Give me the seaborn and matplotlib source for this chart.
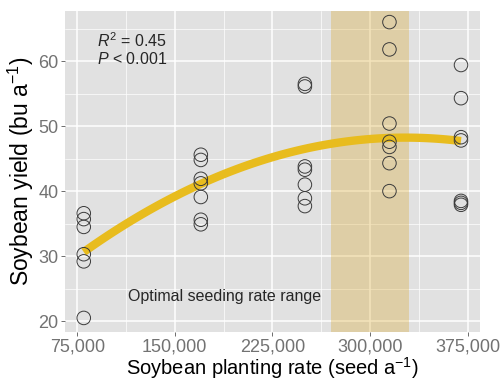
import numpy as np
import pandas as pd
import matplotlib
matplotlib.use('Agg')
import matplotlib.pyplot as plt
from matplotlib.ticker import FixedLocator, FuncFormatter
import seaborn as sns

# planting rates (seed per acre) and the yields observed at each
rates = [80000, 170000, 250000, 315000, 370000]
yield_80k = [36.6, 35.7, 34.5, 30.3, 29.2, 20.5]
yield_170k = [45.6, 44.8, 41.9, 41.2, 39.1, 35.6, 34.9]
yield_250k = [56.5, 56.1, 43.8, 43.3, 41.0, 38.9, 37.7]
yield_315k = [66.0, 61.8, 50.4, 47.6, 46.8, 44.3, 40.0]
yield_370k = [59.4, 54.3, 48.3, 47.8, 38.5, 38.2, 37.9]

optimal_range = (270000, 330000)
x_ticks = [75000, 150000, 225000, 300000, 375000]
y_ticks = [20, 30, 40, 50, 60]


def main():
    groups = [yield_80k, yield_170k, yield_250k, yield_315k, yield_370k]
    data = pd.DataFrame({
        'rate': np.concatenate([[r] * len(g) for r, g in zip(rates, groups)]),
        'yield': np.concatenate(groups),
    })

    sns.set_style('darkgrid', {'axes.facecolor': '#E1E1E1', 'grid.color': 'white'})
    plt.rcParams['font.family'] = ['Liberation Sans', 'DejaVu Sans']
    plt.rcParams['mathtext.fontset'] = 'custom'
    plt.rcParams['mathtext.rm'] = 'Liberation Sans'
    plt.rcParams['mathtext.it'] = 'Liberation Sans:italic'

    fig = plt.figure(figsize=(5.03, 3.81), dpi=100)
    ax = fig.add_axes([0.129, 0.128, 0.825, 0.843])

    ax.axvspan(*optimal_range, color='goldenrod', alpha=0.3, lw=0, zorder=1)

    sns.regplot(x='rate', y='yield', data=data, order=2, ci=None, scatter=False,
                ax=ax, line_kws={'color': '#E8BC1E', 'lw': 6, 'zorder': 2,
                                 'solid_capstyle': 'butt'})
    sns.scatterplot(x='rate', y='yield', data=data, ax=ax, marker='o', s=95,
                    facecolor='none', edgecolor='#3A3A3A', linewidth=0.7, zorder=3)

    pad_x = 0.05 * (max(rates) - min(rates))
    ax.set_xlim(min(rates) - pad_x, max(rates) + pad_x)
    ax.set_ylim(18.3, 67.7)

    ax.xaxis.set_major_locator(FixedLocator(x_ticks))
    ax.xaxis.set_minor_locator(FixedLocator([t + 37500 for t in x_ticks[:-1]]))
    ax.yaxis.set_major_locator(FixedLocator(y_ticks))
    ax.yaxis.set_minor_locator(FixedLocator([t + 5 for t in y_ticks]))
    ax.xaxis.set_major_formatter(FuncFormatter(lambda v, p: f'{int(v):,}'))
    ax.grid(which='major', color='white', lw=1.1)
    ax.grid(which='minor', color='white', lw=0.5)
    ax.set_axisbelow(True)
    for s in ax.spines.values():
        s.set_visible(False)
    ax.tick_params(which='major', length=3, width=0.6, color='#555555', direction='out',
                   labelsize=13, labelcolor='#727272', pad=1.5, bottom=True, left=True)
    ax.tick_params(which='minor', length=0)

    ax.set_xlabel('Soybean planting rate (seed a$^{-1}$)', fontsize=14.5, color='black', labelpad=0)
    ax.set_ylabel('Soybean yield (bu a$^{-1}$)', fontsize=16.5, color='black', labelpad=2)

    ax.text(90000, 63.2, '$R^2$ = 0.45', fontsize=11.5, ha='left', va='center')
    ax.text(90000, 60.3, '$P$ < 0.001', fontsize=11.5, ha='left', va='center')
    ax.text(188000, 23.8, 'Optimal seeding rate range', fontsize=11.5, ha='center', va='center')

    fig.savefig('out.png', dpi=100)
    plt.close(fig)


if __name__ == '__main__':
    main()
